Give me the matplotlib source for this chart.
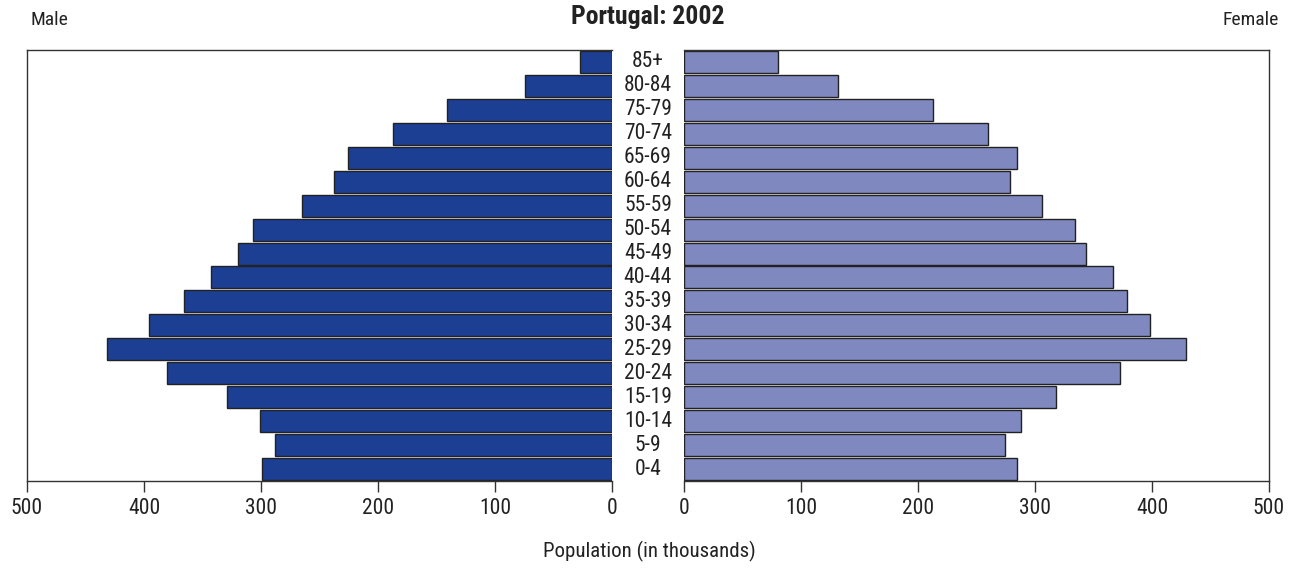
import matplotlib
matplotlib.use('Agg')
import matplotlib.pyplot as plt

# Age groups, bottom to top
ages = ['0-4', '5-9', '10-14', '15-19', '20-24', '25-29', '30-34', '35-39', '40-44',
        '45-49', '50-54', '55-59', '60-64', '65-69', '70-74', '75-79', '80-84', '85+']

# Population in thousands
male = [299, 288, 301, 329, 380, 432, 396, 366, 343, 320, 307, 265, 238, 226, 187, 141, 74, 27]
female = [285, 274, 288, 318, 373, 429, 398, 379, 367, 344, 334, 306, 279, 285, 260, 213, 132, 80]

ticks = [0, 100, 200, 300, 400, 500]

plt.rcParams['font.family'] = ['Roboto Condensed', 'DejaVu Sans']

W, H = 1297, 569
fig = plt.figure(figsize=(W / 100, H / 100), dpi=100)

bottom = 1 - 481 / H
height = (481 - 50) / H
ax_m = fig.add_axes([27 / W, bottom, 585 / W, height])
ax_f = fig.add_axes([684 / W, bottom, 585 / W, height])

y = list(range(len(ages)))
ax_m.barh(y, male, height=0.92, color='#1c3f94', edgecolor='#222222', linewidth=1)
ax_f.barh(y, female, height=0.92, color='#8088c0', edgecolor='#222222', linewidth=1)

ax_m.set_xlim(500, 0)
ax_f.set_xlim(0, 500)

for ax in (ax_m, ax_f):
    ax.set_ylim(-0.5, len(ages) - 0.5)
    ax.set_yticks([])
    ax.set_xticks(ticks)
    ax.set_xticklabels([str(t) for t in ticks])
    ax.tick_params(axis='x', direction='out', length=8, width=1, labelsize=15.5,
                   color='#333333', labelcolor='#222222', pad=4)
    for s in ax.spines.values():
        s.set_color('#333333')
        s.set_linewidth(1)

ax_m.spines['right'].set_visible(False)
ax_f.spines['left'].set_visible(False)

# age labels between panels
for i, lab in enumerate(ages):
    ax_m.text(1 + 36 / 585, i, lab, transform=ax_m.get_yaxis_transform(),
              ha='center', va='center', fontsize=15.5, color='#222222')

fig.text(648 / W, 1 - 17 / H, 'Portugal: 2002', ha='center', va='center',
         fontsize=18.5, fontweight='bold', color='#222222')
fig.text(31 / W, 1 - 20 / H, 'Male', ha='left', va='center', fontsize=14, color='#222222')
fig.text(1279 / W, 1 - 20 / H, 'Female', ha='right', va='center', fontsize=14, color='#222222')
fig.text(649 / W, 1 - 551 / H, 'Population (in thousands)', ha='center', va='center',
         fontsize=15, color='#222222')

fig.savefig('out.png', dpi=100)
